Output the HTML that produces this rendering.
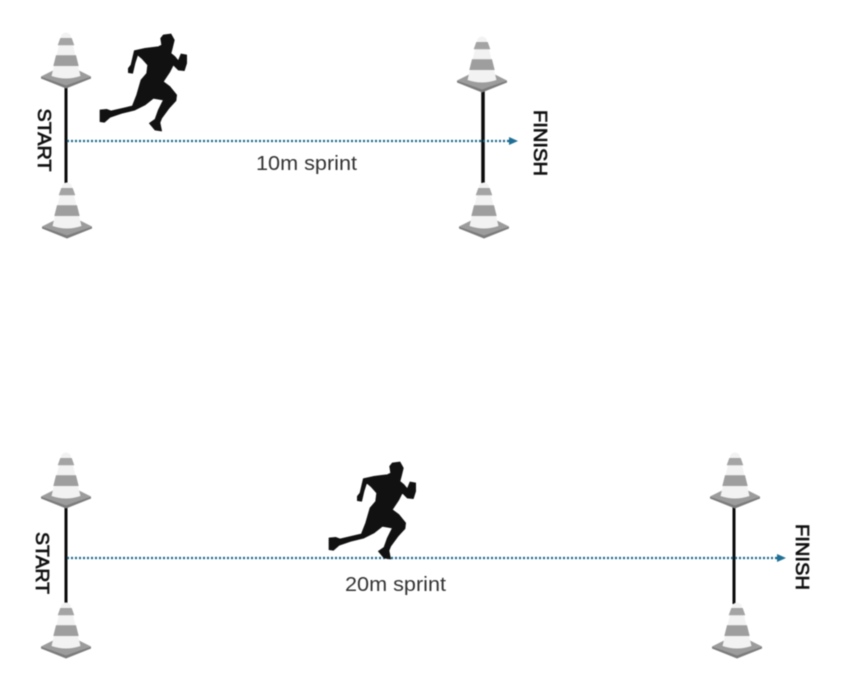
<!DOCTYPE html>
<html lang="en">
<head>
<meta charset="utf-8">
<title>Sprint test layouts</title>
<style>
html,body{margin:0;padding:0;background:#fff;width:850px;height:673px;overflow:hidden}
svg{display:block;filter:blur(0.4px)}
text{font-family:"Liberation Sans","DejaVu Sans",sans-serif}
.gate{font-size:18.5px;fill:#111;stroke:#111;stroke-width:0.7}
.cap{font-size:20px;fill:#333}
.tape{stroke:#0a0a0a;stroke-width:3}
.dots{stroke:#17668c;stroke-width:2.2;stroke-dasharray:2 2;fill:none}
.head{fill:#1f6f94}
</style>
</head>
<body>
<svg width="850" height="673" viewBox="0 0 850 673" xmlns="http://www.w3.org/2000/svg">
<defs>
<g id="cone">
<path d="M-25 44.5 L-25 46.5 L0 56.5 L25 46.5 L25 44.5 L0 53 Z" fill="#7c7c7c"/>
<path d="M-25 44.5 L0 32 L25 44.5 L0 53.5 Z" fill="#9c9c9c"/>
<path d="M-4.5 3 Q0 -2 4.5 3 L14.5 44 Q0 49 -14.5 44 Z" fill="#f2f2f2"/>
<path d="M-5.7 6 L5.7 6 L8.3 13.3 L-8.3 13.3 Z" fill="#a4a4a4"/>
<path d="M-10 23.3 L10 23.3 L12.7 34 L-12.7 34 Z" fill="#9e9e9e"/>
</g>
<path id="runner" transform="translate(95 30) scale(0.3333)" fill="#111" stroke="#111" stroke-width="2" stroke-linejoin="round" d="M205 15 L228 12 L238 30 L232 55 L228 70 L240 80 L250 92 L258 72 L275 75 L275 100 L268 122 L250 120 L235 105 L225 125 L205 155 L225 170 L245 195 L243 212 L222 235 L200 265 L195 278 L200 303 L180 300 L163 280 L180 268 L190 240 L205 210 L175 205 L150 225 L120 240 L80 250 L45 262 L28 277 L15 275 L15 240 L35 238 L48 243 L112 228 L125 195 L138 150 L155 130 L158 105 L140 85 L128 75 L120 100 L113 130 L100 128 L100 115 L108 105 L118 62 L150 55 L190 50 L200 45 L197 25 Z"/>
</defs>

<g>
<line class="tape" x1="66" y1="87" x2="66" y2="183"/>
<line class="tape" x1="483" y1="90" x2="483" y2="183" style="stroke-width:3.5"/>
<use href="#cone" transform="translate(66 32)"/>
<use href="#cone" transform="translate(67 182)"/>
<use href="#cone" transform="translate(482 36)"/>
<use href="#cone" transform="translate(484 182)"/>
<line class="dots" x1="67" y1="141" x2="510" y2="141"/>
<path class="head" d="M509 137 L518 141 L509 145 Z"/>
<use href="#runner"/>
<text class="gate" transform="translate(38 140) rotate(90)" text-anchor="middle" textLength="63" lengthAdjust="spacingAndGlyphs">START</text>
<text class="gate" transform="translate(534 143) rotate(90)" text-anchor="middle" textLength="66" lengthAdjust="spacingAndGlyphs">FINISH</text>
<text class="cap" x="256" y="170" textLength="101" lengthAdjust="spacingAndGlyphs">10m sprint</text>
</g>

<g>
<line class="tape" x1="66" y1="506" x2="66" y2="604"/>
<line class="tape" x1="734" y1="506" x2="734" y2="604"/>
<use href="#cone" transform="translate(66 452)"/>
<use href="#cone" transform="translate(66 602)"/>
<use href="#cone" transform="translate(735 452)"/>
<use href="#cone" transform="translate(737 602)"/>
<line class="dots" x1="67" y1="558" x2="778" y2="558"/>
<path class="head" d="M777 554 L786 558 L777 562 Z"/>
<use href="#runner" transform="translate(229 428)"/>
<text class="gate" transform="translate(36 563) rotate(90)" text-anchor="middle" textLength="62" lengthAdjust="spacingAndGlyphs">START</text>
<text class="gate" transform="translate(796 557) rotate(90)" text-anchor="middle" textLength="66" lengthAdjust="spacingAndGlyphs">FINISH</text>
<text class="cap" x="345" y="591" textLength="101" lengthAdjust="spacingAndGlyphs">20m sprint</text>
</g>
</svg>
</body>
</html>
